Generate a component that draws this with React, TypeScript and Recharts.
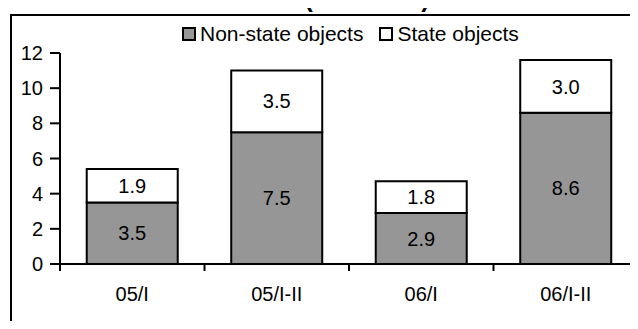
import { Bar, BarChart, XAxis, YAxis, Legend, LabelList } from "recharts"

const periods = ["05/I", "05/I-II", "06/I", "06/I-II"]
const nonState = [3.5, 7.5, 2.9, 8.6]
const state = [1.9, 3.5, 1.8, 3.0]
const yTicks = [0, 2, 4, 6, 8, 10, 12]

const data = periods.map((name, i) => ({
  name,
  nonState: nonState[i],
  state: state[i],
}))

const W = 638
const H = 329
const AXIS_LEFT = 60
const font = "'Liberation Sans', Arial, sans-serif"

const step = (W - AXIS_LEFT) / periods.length

function XTick(props: any) {
  const { x, y, payload } = props
  const left = x - step / 2
  return (
    <g>
      <line x1={left} y1={y} x2={left} y2={y + 7} stroke="#000" strokeWidth={2} />
      <text x={x} y={y + 37} textAnchor="middle" fontSize={20} fontFamily={font} fill="#000">
        {payload.value}
      </text>
    </g>
  )
}

function LegendBox(props: any) {
  const items = props.payload || []
  return (
    <div style={{ display: "flex", fontFamily: font, fontSize: 21, lineHeight: "23px", whiteSpace: "nowrap" }}>
      {items.map((it: any, i: number) => (
        <div key={i} style={{ display: "flex", alignItems: "center", marginRight: 16 }}>
          <span
            style={{
              display: "inline-block",
              width: 10,
              height: 10,
              border: "2px solid #000",
              background: it.payload.fill,
              marginRight: 4,
            }}
          />
          <span>{it.value}</span>
        </div>
      ))}
    </div>
  )
}

export default function App() {
  return (
    <div style={{ position: "relative", width: W, height: H, margin: -8, overflow: "hidden", background: "#fff" }}>
      <svg width={W} height={20} style={{ position: "absolute", left: 0, top: 0 }}>
        <text x={367} y={7} textAnchor="middle" fontSize={25} fontWeight="bold" fontFamily={font} fill="#000">
          (000 units)
        </text>
      </svg>
      <div
        style={{
          position: "absolute",
          left: 10,
          top: 14,
          width: 700,
          height: 400,
          border: "2px solid #000",
          boxSizing: "border-box",
        }}
      />
      <div style={{ position: "absolute", left: 0, top: 0 }}>
        <BarChart
          width={W}
          height={H}
          data={data}
          margin={{ top: 53, right: 0, left: 0, bottom: 12 }}
          barCategoryGap="18.5%"
        >
          <XAxis
            dataKey="name"
            height={30}
            tickSize={0}
            tickMargin={0}
            tickLine={false}
            axisLine={{ stroke: "#000", strokeWidth: 2 }}
            tick={<XTick />}
            interval={0}
          />
          <YAxis
            width={AXIS_LEFT}
            domain={[0, 12]}
            ticks={yTicks}
            interval={0}
            tickSize={10}
            tickMargin={7}
            axisLine={{ stroke: "#000", strokeWidth: 2 }}
            tickLine={{ stroke: "#000", strokeWidth: 2 }}
            tick={{ fill: "#000", fontSize: 20, fontFamily: font }}
          />
          <Legend
            content={<LegendBox />}
            wrapperStyle={{ position: "absolute", left: 182, top: 22, width: "auto" }}
          />
          <Bar
            dataKey="nonState"
            name="Non-state objects"
            stackId="a"
            fill="#969696"
            stroke="#000"
            strokeWidth={2}
            isAnimationActive={false}
          >
            <LabelList
              dataKey="nonState"
              position="center"
              fill="#000"
              fontSize={20}
              fontFamily={font}
              formatter={(v: any) => Number(v).toFixed(1)}
            />
          </Bar>
          <Bar
            dataKey="state"
            name="State objects"
            stackId="a"
            fill="#ffffff"
            stroke="#000"
            strokeWidth={2}
            isAnimationActive={false}
          >
            <LabelList
              dataKey="state"
              position="center"
              fill="#000"
              fontSize={20}
              fontFamily={font}
              formatter={(v: any) => Number(v).toFixed(1)}
            />
          </Bar>
        </BarChart>
      </div>
    </div>
  )
}
